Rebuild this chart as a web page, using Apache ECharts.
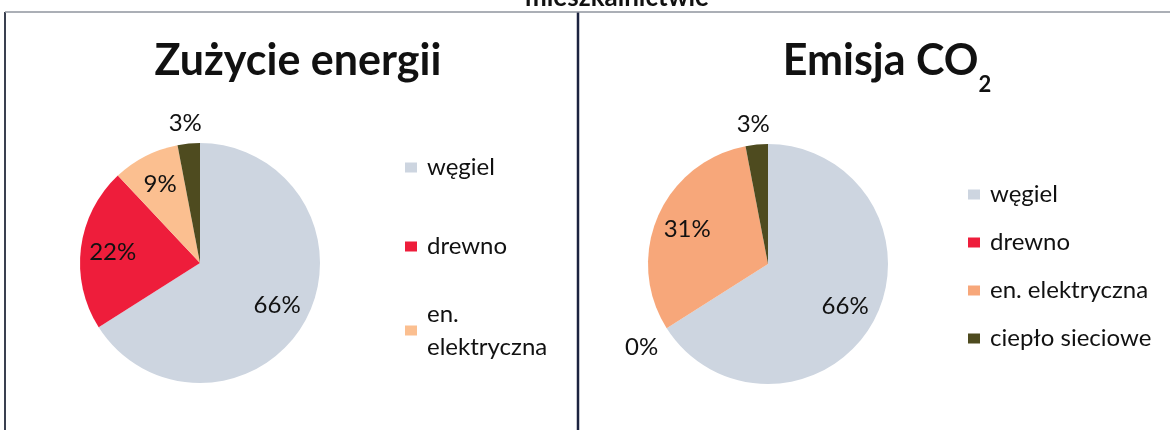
<!DOCTYPE html>
<html>
<head>
<meta charset="utf-8">
<script src="https://cdn.jsdelivr.net/npm/echarts@6/dist/echarts.min.js"></script>
<style>
  html, body { margin: 0; padding: 0; background: #fff; }
  #chart { width: 1170px; height: 430px; }
</style>
</head>
<body>
<div id="chart"></div>
<script>
// data (percent)
const categories = ['węgiel', 'drewno', 'en. elektryczna', 'ciepło sieciowe'];
const energyShare = [66, 22, 9, 3];
const co2Share = [66, 0, 31, 3];
const energyColors = ['#cdd5e0', '#ee1d3b', '#fbbf90', '#4e4b1f'];
const co2Colors = ['#cdd5e0', '#ee1d3b', '#f7a77a', '#4e4b1f'];

const FONT = 'Lato, "Open Sans", sans-serif';
const labelFont = { fontFamily: FONT, fontSize: 24, color: '#111' };

// main pie: only small slices get an outside label
function mainPie(values, colors, center) {
  return {
    type: 'pie',
    center: center,
    radius: [0, 120],
    startAngle: 90,
    avoidLabelOverlap: false,
    emphasis: { disabled: true },
    label: Object.assign({ show: false }, labelFont),
    labelLine: { show: false },
    data: categories.map((name, i) => {
      const d = { name: name, value: values[i], itemStyle: { color: colors[i], borderWidth: 0 } };
      if (values[i] < 5) {
        d.label = {
          show: true,
          position: 'outside',
          formatter: '{c}%',
          distanceToLabelLine: values[i] === 0 ? -21 : -15
        };
        d.labelLine = { show: false, length: values[i] === 0 ? 35 : 20, length2: 0 };
      }
      return d;
    })
  };
}

// transparent ring, used only to put the big labels further out than r/2
function labelRing(values, center) {
  return {
    type: 'pie',
    center: center,
    radius: [50, 120],
    startAngle: 90,
    silent: true,
    avoidLabelOverlap: false,
    itemStyle: { color: 'transparent', borderWidth: 0 },
    emphasis: { disabled: true },
    label: Object.assign({ position: 'inside', formatter: '{c}%' }, labelFont),
    labelLine: { show: false },
    data: categories.map((name, i) => ({
      name: name,
      value: values[i],
      label: { show: values[i] >= 5 }
    }))
  };
}

const legendCommon = {
  orient: 'vertical',
  icon: 'rect',
  itemWidth: 12,
  itemHeight: 10,
  padding: 5,
  selectedMode: false,
  textStyle: { fontFamily: FONT, fontSize: 24, lineHeight: 33, color: '#111', padding: [0, 0, 0, 5] }
};

const chart = echarts.init(document.getElementById('chart'));
chart.setOption({
  animation: false,
  backgroundColor: '#fff',
  title: [
    {
      text: 'mieszkalnictwie',
      left: 612, top: -20, textAlign: 'center',
      textStyle: { fontFamily: FONT, fontSize: 26, fontWeight: 'bold', color: '#111' }
    },
    {
      text: 'Zużycie energii',
      left: 293, top: 35, textAlign: 'center',
      textStyle: { fontFamily: FONT, fontSize: 43, fontWeight: 'bold', color: '#111' }
    },
    {
      text: '{a|Emisja CO}{sub|2}',
      left: 882, top: 35, textAlign: 'center',
      textStyle: {
        fontFamily: FONT,
        rich: {
          a: { fontFamily: FONT, fontSize: 43, fontWeight: 'bold', color: '#111', lineHeight: 43, verticalAlign: 'top' },
          sub: { fontFamily: FONT, fontSize: 22, fontWeight: 'bold', color: '#111', lineHeight: 22, verticalAlign: 'top', padding: [34, 0, 0, 0] }
        }
      }
    }
  ],
  legend: [
    Object.assign({}, legendCommon, {
      data: ['węgiel', 'drewno'],
      left: 400, top: 146, itemGap: 46
    }),
    Object.assign({}, legendCommon, {
      data: ['en. elektryczna'],
      left: 400, top: 276,
      formatter: () => 'en.\nelektryczna',
      textStyle: Object.assign({}, legendCommon.textStyle, { padding: [33, 0, 0, 5] })
    }),
    Object.assign({}, legendCommon, {
      data: categories.map((name, i) => ({ name: name, itemStyle: { color: co2Colors[i] } })),
      left: 963, top: 173, itemGap: 15
    })
  ],
  graphic: [
    { type: 'line', shape: { x1: 5, y1: 12, x2: 5, y2: 430 }, style: { stroke: '#3a4050', lineWidth: 2 } },
    { type: 'line', shape: { x1: 578, y1: 12, x2: 578, y2: 430 }, style: { stroke: '#1c2340', lineWidth: 2.5 } },
    { type: 'line', shape: { x1: 5, y1: 12, x2: 1170, y2: 12 }, style: { stroke: '#8f949e', lineWidth: 1.5 } }
  ],
  series: [
    mainPie(energyShare, energyColors, [200, 263]),
    mainPie(co2Share, co2Colors, [768, 264]),
    labelRing(energyShare, [200, 263]),
    labelRing(co2Share, [768, 264])
  ]
});
</script>
</body>
</html>
